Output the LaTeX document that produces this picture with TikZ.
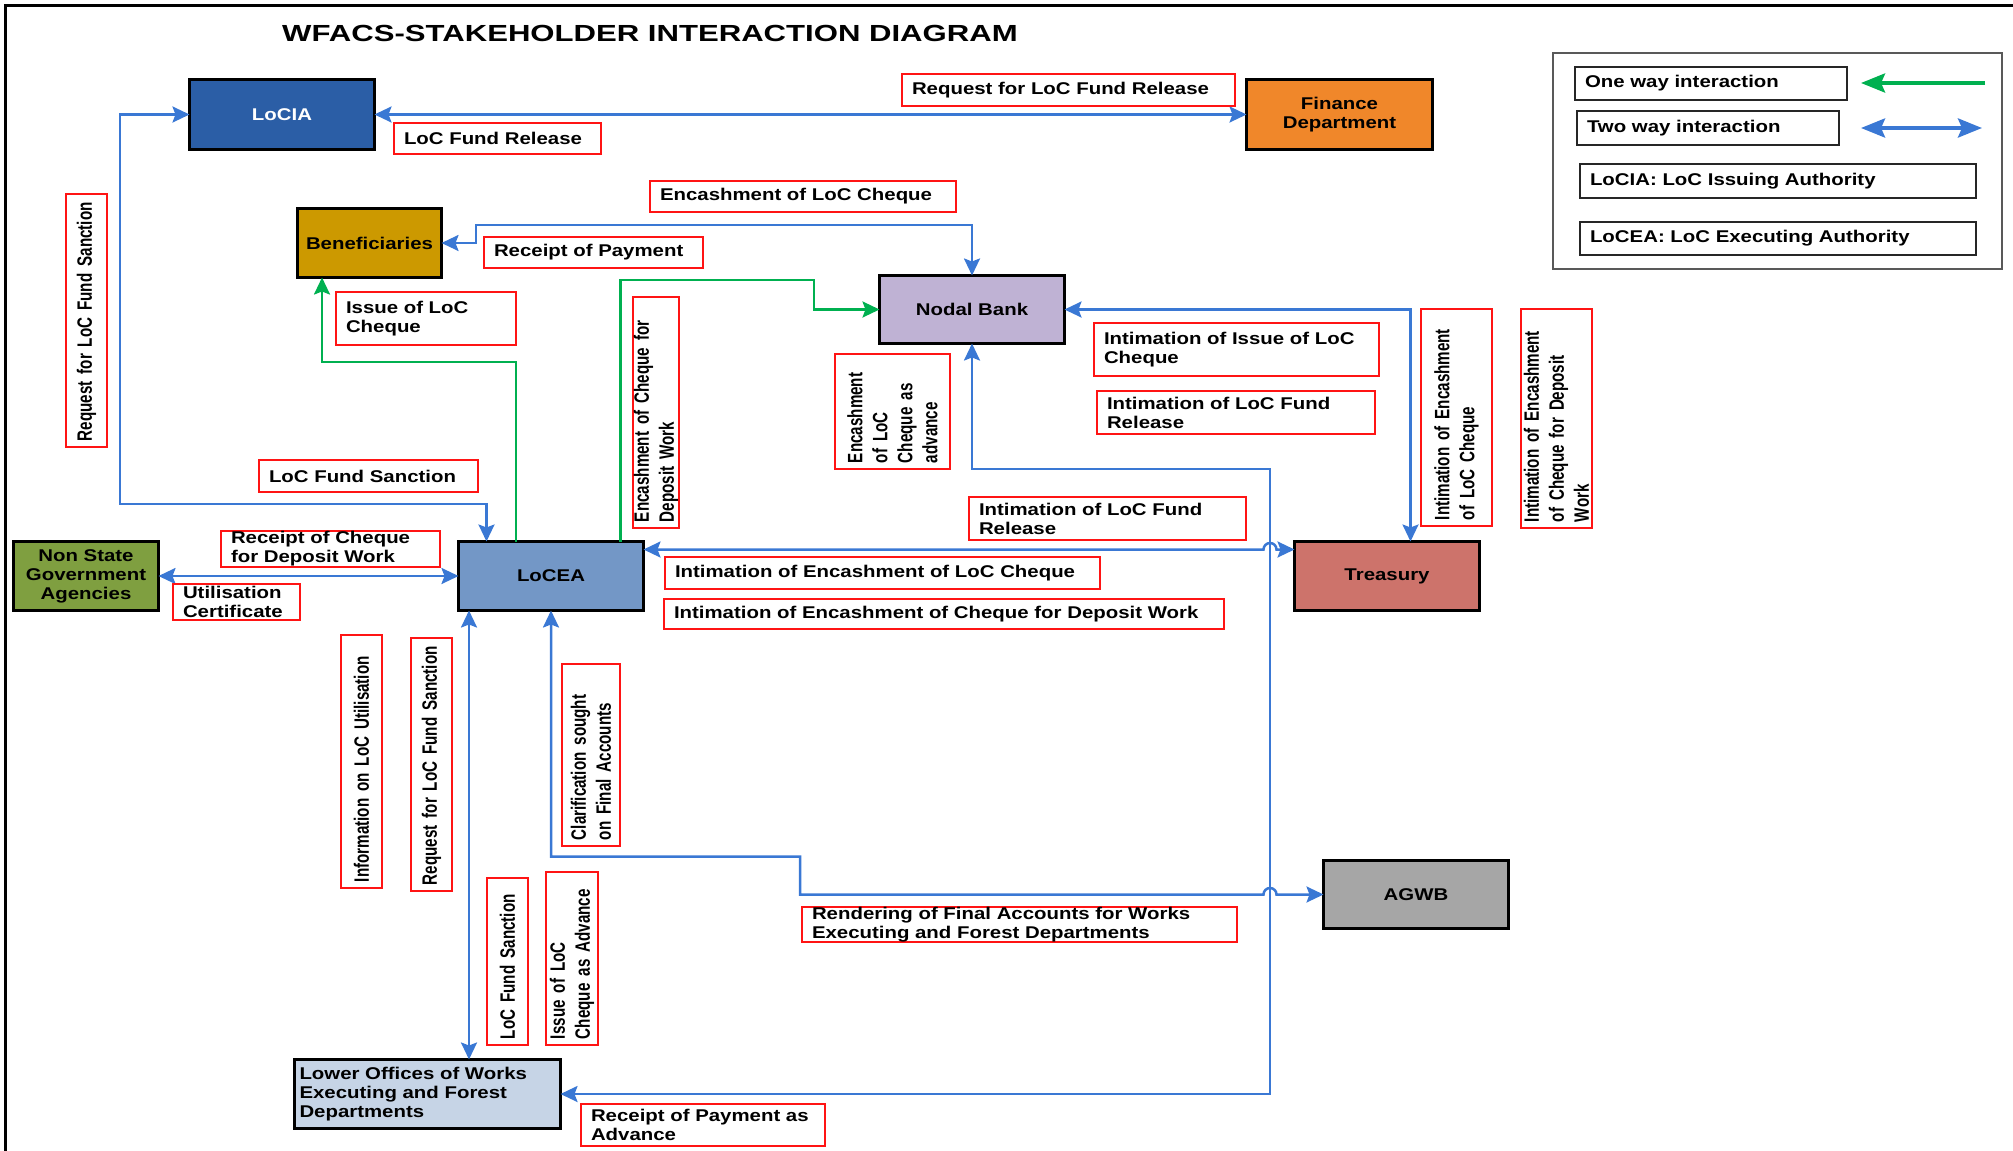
\documentclass[tikz,border=0pt]{standalone}
\usepackage{fontspec}
\setmainfont{Liberation Sans}
\newfontfamily\hfont[FakeStretch=1.2]{Liberation Sans}
\newfontfamily\vfont[FakeStretch=0.73]{Liberation Sans}
\newfontfamily\tfont[FakeStretch=1.335]{Liberation Sans}
\usetikzlibrary{arrows.meta}
\hyphenpenalty=10000
\exhyphenpenalty=10000

\definecolor{linkblue}{RGB}{58,120,212}
\definecolor{linkgreen}{RGB}{0,176,80}
\definecolor{labred}{RGB}{255,20,20}
\definecolor{cLocia}{RGB}{43,94,166}
\definecolor{cFin}{RGB}{240,135,42}
\definecolor{cBen}{RGB}{204,153,0}
\definecolor{cNodal}{RGB}{191,178,212}
\definecolor{cLocea}{RGB}{115,151,198}
\definecolor{cNsga}{RGB}{127,159,64}
\definecolor{cTreas}{RGB}{205,115,107}
\definecolor{cAgwb}{RGB}{166,166,166}
\definecolor{cLower}{RGB}{198,212,230}

\begin{document}
\begin{tikzpicture}[x=1pt,y=-1pt,
  hfnt/.style={font={\hfont\bfseries\fontsize{17pt}{19pt}\selectfont}},
  box/.style={draw=black, line width=3pt, outer sep=0pt, inner sep=0pt,
    align=center, hfnt},
  lab/.style={draw=labred, line width=1.5pt, fill=white, outer sep=0pt,
    inner xsep=10pt, inner ysep=0pt, align=left, hfnt},
  vlab/.style={draw=labred, line width=1.5pt, fill=white, outer sep=0pt,
    rotate=90, inner xsep=6pt, inner ysep=0pt, align=left,
    font={\vfont\bfseries\fontsize{20.8pt}{25pt}\selectfont}},
  keybox/.style={draw=black!85, line width=2pt, fill=white, outer sep=0pt,
    inner xsep=10pt, inner ysep=0pt, align=left, hfnt},
  conn/.style={draw=linkblue, line width=2.5pt},
  twoway/.style={conn, {Stealth[length=17pt,width=16pt,inset=3pt]}-{Stealth[length=17pt,width=16pt,inset=3pt]}},
  oneway/.style={draw=linkgreen, line width=2.5pt, -{Stealth[length=17pt,width=16pt,inset=3pt]}}
]
\useasboundingbox (0,0) rectangle (2013,1151);

% frame
\draw[line width=3pt] (2013,5) -- (5,5) -- (5,1151);

% title
\node[font={\tfont\bfseries\fontsize{23.3pt}{28pt}\selectfont}, anchor=west, inner sep=0pt]
  (title) at (282,33.4) {WFACS-STAKEHOLDER INTERACTION DIAGRAM};

% stakeholders
\node[box, fill=cLocia, text=white, minimum width=185pt, minimum height=70pt] (locia) at (282,114.5) {LoCIA};
\node[box, fill=cFin, minimum width=186pt, minimum height=70pt] (fin) at (1339.5,114.5) {Finance\\Department};
\node[box, fill=cBen, minimum width=144pt, minimum height=69pt] (ben) at (369.5,243) {Beneficiaries};
\node[box, fill=cNodal, minimum width=185pt, minimum height=68pt] (nodal) at (972,309.5) {Nodal Bank};
\node[box, fill=cLocea, minimum width=185pt, minimum height=69pt] (locea) at (551,576) {LoCEA};
\node[box, fill=cNsga, minimum width=145pt, minimum height=69pt] (nsga) at (86,576) {Non State\\Government\\Agencies};
\node[box, fill=cTreas, minimum width=185pt, minimum height=69pt] (treas) at (1387,576) {Treasury};
\node[box, fill=cAgwb, minimum width=185pt, minimum height=68pt] (agwb) at (1416,894.5) {AGWB};
\node[box, fill=cLower, minimum width=266pt, minimum height=69pt, align=left,
  text width=256pt, inner xsep=5pt] (lower) at (427.5,1094)
  {Lower Offices of Works\\Executing and Forest\\Departments};

% ports on LoCEA
\coordinate (pA) at ([xshift=28pt]locea.north west);
\coordinate (pB) at ([xshift=57.5pt]locea.north west);
\coordinate (pC) at ([xshift=162pt]locea.north west);
\coordinate (pD) at ([xshift=10.5pt]locea.south west);

% interactions
\draw[twoway] (locia.east) -- (fin.west);
\draw[twoway] (pA) |- (120,504) |- (locia.west);
\draw[twoway] (ben.east) -| (476,225) -| (nodal.north);
\draw[oneway] (pB) |- (322,362) -- ([xshift=24.5pt]ben.south west);
\draw[oneway] (pC) |- (814,280) |- (nodal.west);
\draw[twoway] (nodal.east) -| ([xshift=23.5pt]treas.north);
\draw[twoway] (nodal.south) |- (1270,469) |- (lower.east);
\draw[twoway] ([yshift=-8pt]locea.north east) -- ++(620,0)
  arc[start angle=180, end angle=0, radius=6.5pt] -- ([yshift=-8pt]treas.north west);
\draw[twoway] (locea.south) |- (800,856.5) |- (1263.5,894.5)
  arc[start angle=180, end angle=0, radius=6.5pt] -- (agwb.west);
\draw[twoway] (nsga.east) -- (locea.west);
\draw[twoway] (pD) -- (pD |- lower.north);

% horizontal labels
\node[lab, text width=313pt, minimum height=32pt] (t1) at (1068.5,90) {Request for LoC Fund Release};
\node[lab, text width=187pt, minimum height=31pt] (t2) at (497.5,138.5) {LoC Fund Release};
\node[lab, text width=286pt, minimum height=31pt] (t3) at (803,196.5) {Encashment of LoC Cheque};
\node[lab, text width=199pt, minimum height=31pt] (t4) at (593.5,252.5) {Receipt of Payment};
\node[lab, text width=160pt, minimum height=53pt] (t5) at (426,318.5) {Issue of LoC\\Cheque};
\node[lab, text width=265pt, minimum height=53pt] (t6) at (1236.5,349.5) {Intimation of Issue of LoC\\Cheque};
\node[lab, text width=258pt, minimum height=43pt] (t7) at (1236,412.5) {Intimation of LoC Fund\\Release};
\node[lab, text width=199pt, minimum height=32pt] (t8) at (368.5,476) {LoC Fund Sanction};
\node[lab, text width=257pt, minimum height=43pt] (t9) at (1107.5,518.5) {Intimation of LoC Fund\\Release};
\node[lab, text width=199pt, minimum height=36pt] (t10) at (330.5,549) {Receipt of Cheque\\for Deposit Work};
\node[lab, text width=107pt, minimum height=36pt] (t11) at (236.5,602) {Utilisation\\Certificate};
\node[lab, text width=415pt, minimum height=32pt] (t12) at (882.5,573) {Intimation of Encashment of LoC Cheque};
\node[lab, text width=540pt, minimum height=30pt] (t13) at (944,614) {Intimation of Encashment of Cheque for Deposit Work};
\node[lab, text width=415pt, minimum height=33pt] (t14) at (1019.5,924.5) {Rendering of Final Accounts for Works\\Executing and Forest Departments};
\node[lab, text width=224pt, minimum height=42pt] (t15) at (703,1125) {Receipt of Payment as\\Advance};

% vertical labels
\node[vlab, text width=241pt, minimum height=41pt] (v1) at (86.5,320.5) {Request for LoC Fund Sanction};
\node[vlab, text width=219pt, minimum height=46pt] (v2) at (656,412.5) {Encashment of Cheque for\\Deposit Work};
\node[vlab, text width=103pt, minimum height=115pt] (v3) at (892.5,411.5) {Encashment\\of LoC\\Cheque as\\advance};
\node[vlab, text width=205pt, minimum height=71pt] (v4) at (1456.5,417.5) {Intimation of Encashment\\of LoC Cheque};
\node[vlab, text width=207pt, minimum height=71pt] (v5) at (1556.5,418.5) {Intimation of Encashment\\of Cheque for Deposit\\Work};
\node[vlab, text width=241pt, minimum height=41pt] (v6) at (361.5,761.5) {Information on LoC Utilisation};
\node[vlab, text width=241pt, minimum height=41pt] (v7) at (431.5,764.5) {Request for LoC Fund Sanction};
\node[vlab, text width=170pt, minimum height=58pt] (v8) at (591,755) {Clarification sought\\on Final Accounts};
\node[vlab, text width=155pt, minimum height=41pt] (v9) at (507.5,961.5) {LoC Fund Sanction};
\node[vlab, text width=161pt, minimum height=52pt] (v10) at (572,958.5) {Issue of LoC\\Cheque as Advance};

% key
\node[draw=black!65, line width=1.5pt, minimum width=449pt, minimum height=216pt, outer sep=0pt] (legend) at (1777.5,161) {};
\node[keybox, text width=252pt, minimum height=33pt] (k1) at (1711,83.5) {One way interaction};
\node[keybox, text width=242pt, minimum height=34pt] (k2) at (1708,128) {Two way interaction};
\node[keybox, text width=376pt, minimum height=34pt] (k3) at (1778,181) {LoCIA: LoC Issuing Authority};
\node[keybox, text width=376pt, minimum height=33pt] (k4) at (1778,238.5) {LoCEA: LoC Executing Authority};
\coordinate (g1) at (1985,83);
\coordinate (g2) at (1861,83);
\coordinate (b1) at (1861,128);
\coordinate (b2) at (1982,128);
\draw[draw=linkgreen, line width=4pt, -{Stealth[length=24pt,width=19pt,inset=4pt]}] (g1) -- (g2);
\draw[draw=linkblue, line width=4pt, {Stealth[length=24pt,width=19pt,inset=4pt]}-{Stealth[length=24pt,width=19pt,inset=4pt]}] (b1) -- (b2);
\end{tikzpicture}
\end{document}
